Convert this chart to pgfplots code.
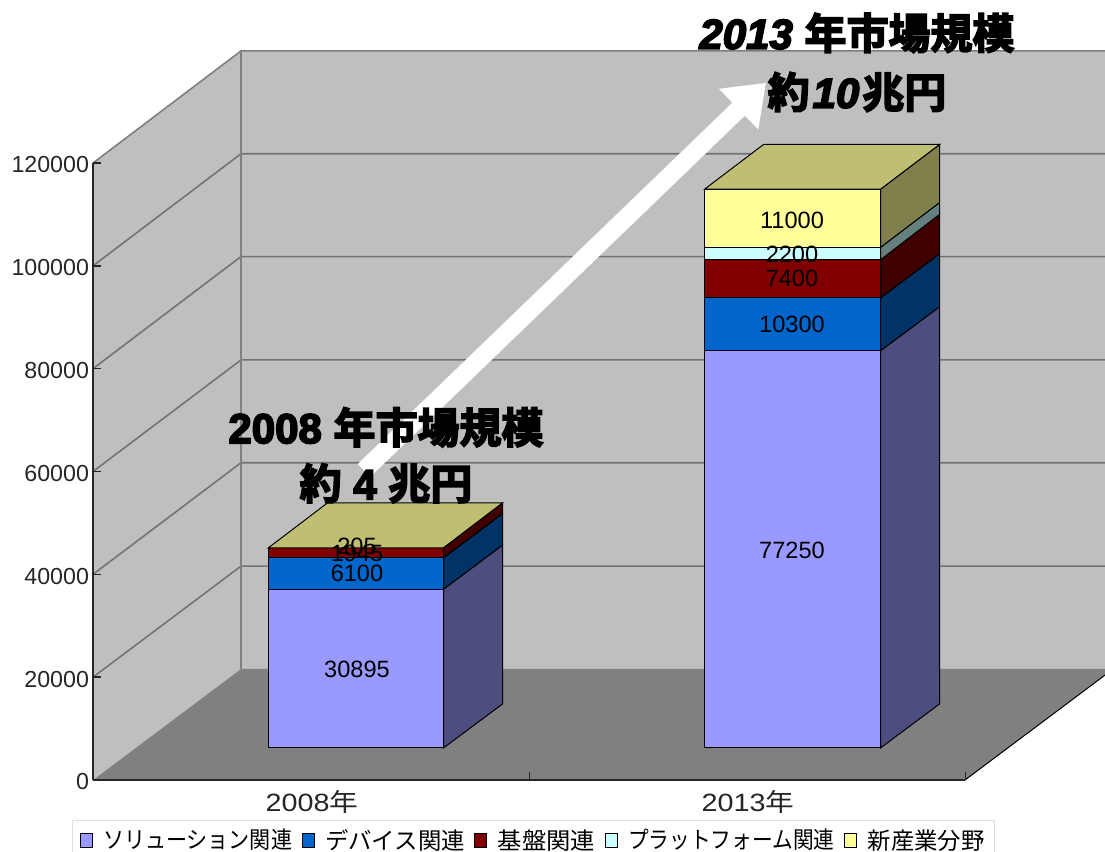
\documentclass[border=0pt]{standalone}
\usepackage{pgfplots}
\pgfplotsset{compat=1.18}
\usetikzlibrary{arrows.meta}
\usepackage{fontspec}
\setmainfont{Liberation Sans}
\newfontfamily\jp{Noto Sans CJK JP}
\newfontfamily\jpb[FakeBold=4]{Noto Sans CJK JP Bold}
\newfontfamily\numb[FakeBold=4]{Liberation Sans Bold Italic}
\newfontfamily\numu[FakeBold=4]{Liberation Sans Bold}
\definecolor{cA}{HTML}{9999FF}\definecolor{cAs}{HTML}{4D4D80}
\definecolor{cB}{HTML}{0066CC}\definecolor{cBs}{HTML}{003366}
\definecolor{cC}{HTML}{800000}\definecolor{cCs}{HTML}{400000}
\definecolor{cD}{HTML}{CCFFFF}\definecolor{cDs}{HTML}{668080}
\definecolor{cE}{HTML}{FFFF99}\definecolor{cEs}{HTML}{80804D}\definecolor{cEt}{HTML}{BFBF73}
\tikzset{val/.style={font=\fontsize{11.8}{14}\selectfont,text=black,inner sep=0pt},
  cat/.style={font=\fontsize{12.5}{14}\selectfont,text=black!85,inner sep=0pt,xscale=1.15},
  big/.style={font=\fontsize{21}{23}\selectfont,inner sep=0pt}}
\begin{document}
\begin{tikzpicture}
\path[use as bounding box] (0,0) rectangle (552.5pt,-426pt);
\begin{axis}[
  at={(46.5pt,-390pt)},anchor=south west,
  scale only axis,width=436pt,height=308.5pt,
  xmin=93,xmax=965,ymin=0,ymax=120000,
  clip=false,axis on top,
  axis x line=bottom,axis y line=left,
  axis line style={-,black!85,line width=0.8pt},
  ytick={0,20000,40000,60000,80000,100000,120000},
  yticklabel style={font=\fontsize{11.6}{13}\selectfont,text=black!85,xshift=1.5pt,yshift=-1pt,/pgf/number format/assume math mode=true,/pgf/number format/1000 sep={},/pgf/number format/fixed},
  scaled y ticks=false,
  y tick style={black!85,line width=0.8pt},
  tick align=inside,
  major tick length=4pt,
  xtick={529,965},
  xticklabels={},
  x tick style={black!85,line width=0.5pt},
  legend columns=-1,
  legend style={at={(axis cs:72,-7700)},anchor=north west,draw=black!12,fill=white,line width=0.6pt,
    font=\jp\fontsize{11.7}{13}\selectfont,inner xsep=3.5pt,inner ysep=3pt,
    /tikz/every even column/.append style={column sep=3.3pt},
    nodes={inner sep=1.5pt}},
  legend image code/.code={\draw[#1,draw=black,line width=0.4pt] (0pt,-3.5pt) rectangle (6pt,3.5pt);\path[draw=none,fill=none] (6pt,0pt) rectangle (10pt,0.1pt);},
]
\addlegendimage{fill=cA}\addlegendentry{\scalebox{.9}[1]{ソリューション関連}}
\addlegendimage{fill=cB}\addlegendentry{デバイス関連}
\addlegendimage{fill=cC}\addlegendentry{\scalebox{1.04}[1]{基盤関連}}
\addlegendimage{fill=cD}\addlegendentry{\scalebox{.885}[1]{プラットフォーム関連}}
\addlegendimage{fill=cE}\addlegendentry{新産業分野}
% left wall, back wall, floor
\addplot[draw=none,fill=black!25,forget plot] coordinates {(93,0) (241,21600) (241,141800) (93,120000)} -- cycle;
\addplot[draw=none,fill=black!25,forget plot] coordinates {(241,21600) (1105,21600) (1105,141800) (241,141800)} -- cycle;
\addplot[draw=none,fill=black!50,forget plot] coordinates {(93,0) (965,0) (1105,20400) (1105,21600) (241,21600)} -- cycle;
% grid
\addplot[draw=black!55,line width=0.8pt,forget plot] coordinates {(93,20000) (241,41600) (1105,41600)};
\addplot[draw=black!55,line width=0.8pt,forget plot] coordinates {(93,40000) (241,61700) (1105,61700)};
\addplot[draw=black!55,line width=0.8pt,forget plot] coordinates {(93,60000) (241,81700) (1105,81700)};
\addplot[draw=black!55,line width=0.8pt,forget plot] coordinates {(93,80000) (241,101800) (1105,101800)};
\addplot[draw=black!55,line width=0.8pt,forget plot] coordinates {(93,100000) (241,121800) (1105,121800)};
\addplot[draw=black!50,line width=0.8pt,forget plot] coordinates {(93,120000) (241,141800) (1105,141800)};
\addplot[draw=black!50,line width=0.8pt,forget plot] coordinates {(241,21600) (241,141800)};
\addplot[draw=black,line width=0.5pt,forget plot] coordinates {(965,0) (1105,20400)};
% 2008 bar
\addplot[draw=black,line width=0.5pt,fill=cA,forget plot] coordinates {(268.5,6230) (443.5,6230) (443.5,37125) (268.5,37125)} -- cycle;
\addplot[draw=black,line width=0.5pt,fill=cAs,forget plot] coordinates {(443.5,6230) (502.5,14790) (502.5,45685) (443.5,37125)} -- cycle;
\addplot[draw=black,line width=0.5pt,fill=cB,forget plot] coordinates {(268.5,37125) (443.5,37125) (443.5,43225) (268.5,43225)} -- cycle;
\addplot[draw=black,line width=0.5pt,fill=cBs,forget plot] coordinates {(443.5,37125) (502.5,45685) (502.5,51785) (443.5,43225)} -- cycle;
\addplot[draw=black,line width=0.5pt,fill=cC,forget plot] coordinates {(268.5,43225) (443.5,43225) (443.5,45170) (268.5,45170)} -- cycle;
\addplot[draw=black,line width=0.5pt,fill=cCs,forget plot] coordinates {(443.5,43225) (502.5,51785) (502.5,53900) (443.5,45170)} -- cycle;
\addplot[draw=black,line width=0.5pt,fill=cEt,forget plot] coordinates {(268.5,45170) (443.5,45170) (502.5,53900) (327.5,53900)} -- cycle;
% 2013 bar
\addplot[draw=black,line width=0.5pt,fill=cA,forget plot] coordinates {(704.5,6230) (880.5,6230) (880.5,83480) (704.5,83480)} -- cycle;
\addplot[draw=black,line width=0.5pt,fill=cAs,forget plot] coordinates {(880.5,6230) (939.5,14790) (939.5,92040) (880.5,83480)} -- cycle;
\addplot[draw=black,line width=0.5pt,fill=cB,forget plot] coordinates {(704.5,83480) (880.5,83480) (880.5,93780) (704.5,93780)} -- cycle;
\addplot[draw=black,line width=0.5pt,fill=cBs,forget plot] coordinates {(880.5,83480) (939.5,92040) (939.5,102340) (880.5,93780)} -- cycle;
\addplot[draw=black,line width=0.5pt,fill=cC,forget plot] coordinates {(704.5,93780) (880.5,93780) (880.5,101180) (704.5,101180)} -- cycle;
\addplot[draw=black,line width=0.5pt,fill=cCs,forget plot] coordinates {(880.5,93780) (939.5,102340) (939.5,110000) (880.5,101180)} -- cycle;
\addplot[draw=black,line width=0.5pt,fill=cD,forget plot] coordinates {(704.5,101180) (880.5,101180) (880.5,103600) (704.5,103600)} -- cycle;
\addplot[draw=black,line width=0.5pt,fill=cDs,forget plot] coordinates {(880.5,101180) (939.5,110000) (939.5,112300) (880.5,103600)} -- cycle;
\addplot[draw=black,line width=0.5pt,fill=cE,forget plot] coordinates {(704.5,103600) (880.5,103600) (880.5,114900) (704.5,114900)} -- cycle;
\addplot[draw=black,line width=0.5pt,fill=cEs,forget plot] coordinates {(880.5,103600) (939.5,112300) (939.5,123600) (880.5,114900)} -- cycle;
\addplot[draw=black,line width=0.5pt,fill=cEt,forget plot] coordinates {(704.5,114900) (880.5,114900) (939.5,123600) (763.5,123600)} -- cycle;
% arrow
\addplot[white,line width=9pt,-{Triangle[length=19pt,width=27pt]},forget plot] coordinates {(364,60200) (766,135600)};
% value labels
\node[val] at (axis cs:357,21500) {30895};
\node[val] at (axis cs:357,40200) {6100};
\node[val] at (axis cs:357,44000) {1945};
\node[val] at (axis cs:357,45400) {205};
\node[val] at (axis cs:792,44600) {77250};
\node[val] at (axis cs:792,88600) {10300};
\node[val] at (axis cs:792,97500) {7400};
\node[val] at (axis cs:792,102200) {2200};
\node[val] at (axis cs:792,108900) {11000};
% category labels
\node[cat] at (axis cs:312,-4350) {2008{\jp 年}};
\node[cat] at (axis cs:748,-4350) {2013{\jp 年}};
% big titles
\node[big] at (axis cs:386,68600) {{\numu 2008} {\jpb 年市場規模}};
\node[big] at (axis cs:386,57700) {{\jpb 約}{\numu\ 4 }{\jpb 兆円}};
\node[big] at (axis cs:857,145300) {{\numb 2013} {\jpb 年市場規模}};
\node[big] at (axis cs:857,133800) {{\jpb 約}\hspace{1.5pt}{\numb 10}\hspace{1.5pt}{\jpb 兆円}};
\end{axis}
\end{tikzpicture}
\end{document}
